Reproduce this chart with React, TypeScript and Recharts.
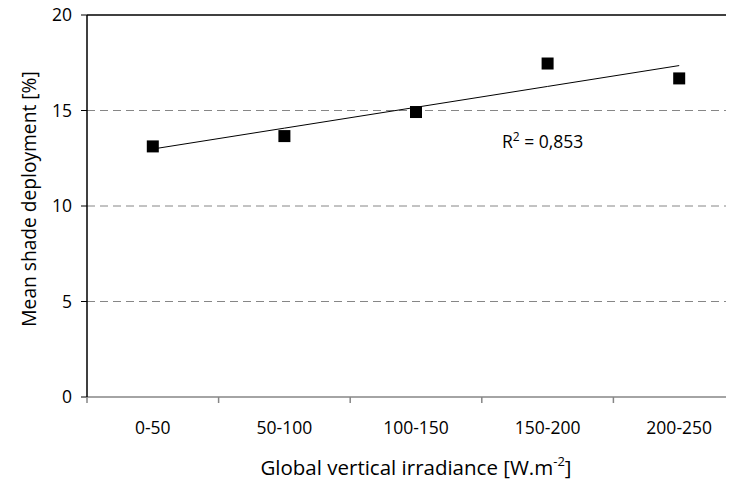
import React from "react";
import {
  ComposedChart,
  Scatter,
  Line,
  XAxis,
  YAxis,
  ReferenceLine,
  Label,
} from "recharts";

const categories = ["0-50", "50-100", "100-150", "150-200", "200-250"];
const shadeValues = [13.12, 13.66, 14.92, 17.46, 16.68];
const yTicks = [0, 5, 10, 15, 20];
const gridValues = [5, 10, 15];
const xTicks = [0, 0.5, 1, 1.5, 2, 2.5, 3, 3.5, 4, 4.5, 5];
const rSquared = "0,853";

const FONT = "'Open Sans', sans-serif";

// least-squares line through the points (x = category index)
function linearFit(ys: number[]) {
  const n = ys.length;
  const xs = ys.map((_, i) => i);
  const mx = xs.reduce((a, b) => a + b, 0) / n;
  const my = ys.reduce((a, b) => a + b, 0) / n;
  let num = 0;
  let den = 0;
  xs.forEach((x, i) => {
    num += (x - mx) * (ys[i] - my);
    den += (x - mx) * (x - mx);
  });
  const slope = num / den;
  return (x: number) => my + slope * (x - mx);
}

const trend = linearFit(shadeValues);

const data = categories.map((name, i) => ({
  name,
  pos: i + 0.5,
  value: shadeValues[i],
  trend: trend(i),
}));

const XTick = (props: any) => {
  const { x, y, payload } = props;
  const v = payload.value;
  if (Number.isInteger(v)) {
    return (
      <line x1={x} x2={x} y1={y} y2={y + 6} stroke="#868686" strokeWidth={1.5} />
    );
  }
  return (
    <text x={x} y={y + 37} textAnchor="middle" fontSize={17.5} fontFamily={FONT} fill="#000">
      {categories[Math.floor(v)]}
    </text>
  );
};

const renderXTitle = (props: any) => {
  const { viewBox } = props;
  return (
    <text
      x={viewBox.x + viewBox.width / 2}
      y={viewBox.y + 78}
      textAnchor="middle"
      fontSize={20.5}
      fontFamily={FONT}
      fill="#000"
    >
      Global vertical irradiance [W.m
      <tspan dy={-9} fontSize={13}>-2</tspan>
      <tspan dy={9}>]</tspan>
    </text>
  );
};

const renderYTitle = (props: any) => {
  const { viewBox } = props;
  const cx = 28;
  const cy = viewBox.y + viewBox.height / 2 - 7;
  return (
    <text
      x={cx}
      y={cy}
      transform={`rotate(-90 ${cx} ${cy})`}
      textAnchor="middle"
      dominantBaseline="central"
      fontSize={19.2}
      fontFamily={FONT}
      fill="#000"
    >
      Mean shade deployment [%]
    </text>
  );
};

const Square = (props: any) => {
  const { cx, cy } = props;
  return <rect x={cx - 6} y={cy - 6} width={12} height={12} fill="#000" />;
};

export default function App() {
  return (
    <div
      style={{
        position: "relative",
        width: 734,
        height: 488,
        overflow: "hidden",
        margin: -8,
        background: "#fff",
      }}
    >
      <ComposedChart
        width={760}
        height={488}
        data={data}
        margin={{ top: 15, right: 15, bottom: 0, left: 0 }}
      >
        <XAxis
          type="number"
          dataKey="pos"
          domain={[0, 5]}
          ticks={xTicks}
          interval={0}
          tick={<XTick />}
          tickLine={false}
          tickSize={0}
          tickMargin={0}
          axisLine={{ stroke: "#868686", strokeWidth: 1.5 }}
          height={91}
          allowDataOverflow
        >
          <Label content={renderXTitle} />
        </XAxis>
        <YAxis
          type="number"
          domain={[0, 20]}
          ticks={yTicks}
          interval={0}
          width={87}
          tickSize={6}
          tickMargin={9}
          axisLine={{ stroke: "#000", strokeWidth: 1.5 }}
          tickLine={{ stroke: "#000", strokeWidth: 1 }}
          tick={{ fontSize: 17.5, fontFamily: FONT, fill: "#000" }}
        >
          <Label content={renderYTitle} />
        </YAxis>
        {gridValues.map((g) => (
          <ReferenceLine
            key={g}
            y={g}
            stroke="#868686"
            strokeWidth={1}
            strokeDasharray="8 5"
          />
        ))}
        <ReferenceLine y={20} stroke="#000" strokeWidth={1.5} />
        <Line
          dataKey="trend"
          stroke="#000"
          strokeWidth={1}
          dot={false}
          activeDot={false}
          isAnimationActive={false}
        />
        <Scatter dataKey="value" fill="#000" shape={<Square />} isAnimationActive={false} />
      </ComposedChart>
      <div
        style={{
          position: "absolute",
          left: 502,
          top: 130,
          fontFamily: FONT,
          fontSize: 17.5,
          lineHeight: "22px",
          color: "#000",
          whiteSpace: "nowrap",
        }}
      >
        R<sup style={{ fontSize: 12, lineHeight: 0 }}>2</sup> = {rSquared}
      </div>
    </div>
  );
}
